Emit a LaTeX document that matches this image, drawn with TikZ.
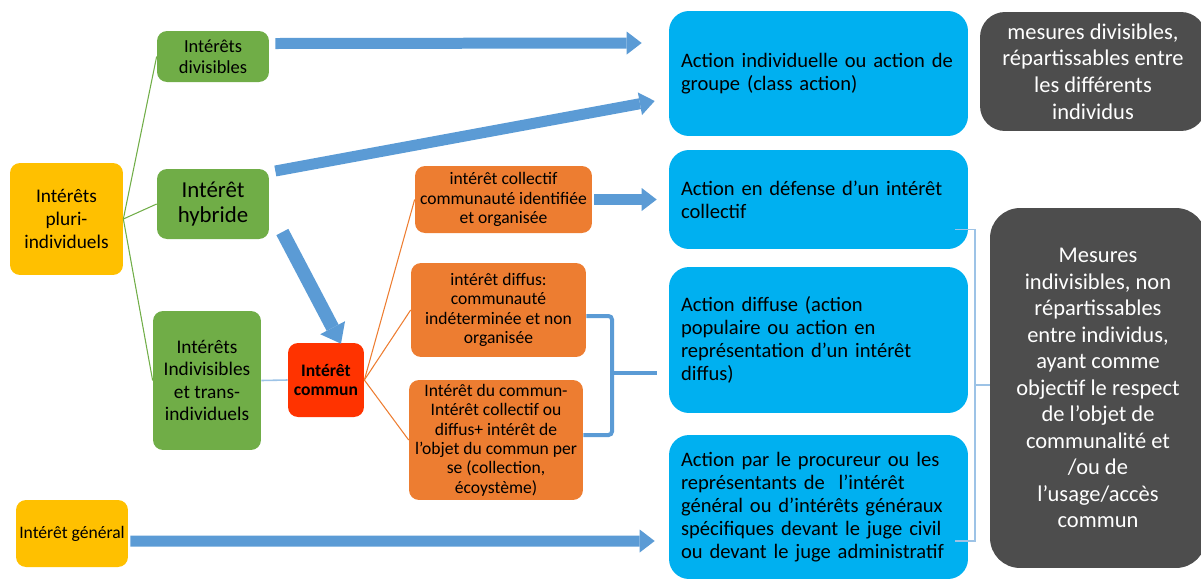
\documentclass[tikz,border=0pt]{standalone}
\usepackage{fontspec}
\setmainfont{Carlito}
\usetikzlibrary{arrows.meta}

\definecolor{jaune}{HTML}{FFC000}
\definecolor{vert}{HTML}{70AD47}
\definecolor{rouge}{HTML}{FF3300}
\definecolor{orangefonce}{HTML}{ED7D31}
\definecolor{bleuciel}{HTML}{00B0F0}
\definecolor{gris}{HTML}{4D4D4D}
\definecolor{flechebleu}{HTML}{5B9BD5}
\definecolor{bleupale}{HTML}{9DC3E6}

\tikzset{
    boite/.style={rounded corners=0.2cm, align=center, inner sep=1pt, text=black},
    jaunebox/.style={boite, fill=jaune},
    vertbox/.style={boite, fill=vert},
    orangebox/.style={boite, fill=orangefonce, minimum width=3.5cm, font=\fontsize{10}{11}\selectfont},
    actionbox/.style={rounded corners=0.4cm, fill=bleuciel, align=left, text width=5.5cm,
        inner xsep=0.24cm, inner ysep=1pt, font=\fontsize{11.7}{13.1}\selectfont},
    mesurebox/.style={rounded corners=0.5cm, fill=gris, text=white, align=center,
        font=\fontsize{12.8}{15.1}\selectfont},
    grossefleche/.style={draw=flechebleu, line width=0.22cm,
        -{Triangle[width=0.46cm, length=0.3cm, line width=0pt]}},
    accolade/.style={draw=flechebleu, line width=0.08cm, rounded corners=2pt},
    lienvert/.style={draw=vert, line width=0.6pt},
    lienorange/.style={draw=orangefonce, line width=0.6pt},
    lienbleu/.style={draw=bleupale, line width=0.9pt},
}

\begin{document}
\begin{tikzpicture}[x=0.02cm, y=-0.02cm]
    \useasboundingbox (0,0) rectangle (1201,579);

    \node[jaunebox, minimum width=2.26cm, minimum height=2.24cm, font=\fontsize{11}{13}\selectfont] (pluri) at (66.5,219) {Intérêts\\pluri-\\individuels};
    \node[jaunebox, minimum width=2.24cm, minimum height=1.34cm, font=\fontsize{10}{11}\selectfont] (general) at (72,533.5) {Intérêt général};

    \node[vertbox, minimum width=2.24cm, minimum height=1.02cm, font=\fontsize{10.5}{12}\selectfont] (divisibles) at (213,56.5) {Intérêts\\divisibles};
    \node[vertbox, minimum width=2.24cm, minimum height=1.4cm, font=\fontsize{13}{13.8}\selectfont] (hybride) at (213,204) {Intérêt\\hybride};
    \node[vertbox, minimum width=2.16cm, minimum height=2.78cm, font=\fontsize{11}{12.8}\selectfont] (indivisibles) at (207,380.5) {Intérêts\\Indivisibles\\et trans-\\individuels};

    \node[boite, fill=rouge, minimum width=1.52cm, minimum height=1.48cm, font=\bfseries\fontsize{10}{11}\selectfont] (commun) at (326,380) {Intérêt\\commun};

    \node[orangebox, minimum width=3.54cm, minimum height=1.34cm] (collectif) at (503.5,199.5) {intérêt collectif\\communauté identifiée\\et organisée};
    \node[orangebox, minimum height=1.88cm] (diffus) at (498.5,310) {intérêt diffus:\\communauté\\indéterminée et non\\organisée};
    \node[orangebox, minimum width=3.48cm, minimum height=2.4cm] (ducommun) at (496,440) {Intérêt du commun-\\Intérêt collectif ou\\diffus+ intérêt de\\l’objet du commun per\\se (collection,\\écoystème)};

    \node[actionbox, minimum height=2.5cm] (act1) at (818.5,73.5) {Action individuelle ou action de\\groupe (class action)};
    \node[actionbox, minimum height=1.98cm] (act2) at (818.5,199.5) {Action en défense d’un intérêt\\collectif};
    \node[actionbox, minimum height=2.92cm] (act3) at (818.5,340) {Action diffuse (action\\populaire ou action en\\représentation d’un intérêt\\diffus)};
    \node[actionbox, minimum height=2.88cm] (act4) at (818.5,507) {Action par le procureur ou les\\représentants de\ \ l’intérêt\\général ou d’intérêts généraux\\spécifiques devant le juge civil\\ou devant le juge administratif};

    \node[mesurebox, minimum width=4.52cm, minimum height=2.38cm] (mes1) at (1093,71.5) {mesures divisibles,\\répartissables entre\\les différents\\individus};
    \node[mesurebox, rounded corners=0.6cm, minimum width=4.32cm, minimum height=7.2cm] (mes2) at (1098,388) {Mesures\\indivisibles, non\\répartissables\\entre individus,\\ayant comme\\objectif le respect\\de l’objet de\\communalité et\\/ou de\\l’usage/accès\\commun};

    \draw[lienvert] (pluri.east) -- (divisibles.west);
    \draw[lienvert] (pluri.east) -- (hybride.west);
    \draw[lienvert] (pluri.east) -- (indivisibles.west);
    \draw[lienbleu] (indivisibles.east) -- (commun.west);
    \draw[lienorange] (commun.east) -- (collectif.west);
    \draw[lienorange] (commun.east) -- (diffus.west);
    \draw[lienorange] (commun.east) -- (ducommun.west);

    \draw[grossefleche] ([shift={(6,-13)}]divisibles.east) -- ([shift={(-27,-30.5)}]act1.west);
    \draw[grossefleche] ([shift={(6,-33)}]hybride.east) -- ([shift={(-14,27.5)}]act1.west);
    \draw[grossefleche, line width=0.27cm, -{Triangle[width=0.56cm, length=0.36cm, line width=0pt]}] ([shift={(13,28)}]hybride.east) -- ([shift={(15,1)}]commun.north);
    \draw[grossefleche] ([shift={(2,0)}]collectif.east) -- ([shift={(-12,0)}]act2.west);
    \draw[grossefleche] ([shift={(2,7.5)}]general.east) -- ([shift={(-14,34)}]act4.west);

    \coordinate (milieu) at (612,373);
    \draw[accolade] ([shift={(0,6)}]diffus.east) -| (milieu) |- ([shift={(0,-5)}]ducommun.east);
    \draw[accolade] (milieu) -- ([shift={(-12,0)}]act3.west |- milieu);

    \coordinate (crochet) at (975,385);
    \draw[lienbleu] ([shift={(-13,30)}]act2.east) -| (crochet) |- ([shift={(-13,34)}]act4.east);
    \draw[lienbleu] (crochet) -- (mes2.west |- crochet);

\end{tikzpicture}
\end{document}
